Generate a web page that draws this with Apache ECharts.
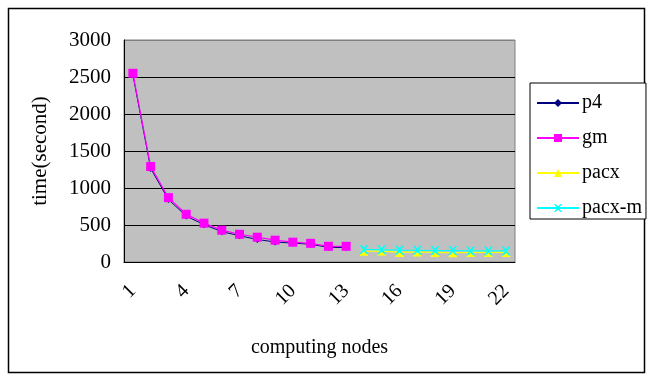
<!DOCTYPE html>
<html><head><meta charset="utf-8">
<script src="https://cdn.jsdelivr.net/npm/echarts@6/dist/echarts.min.js"></script>
<style>html,body{margin:0;padding:0;background:#fff}#c{width:647px;height:379px}</style>
</head><body><div id="c"></div>
<script>
const categories = ['1','2','3','4','5','6','7','8','9','10','11','12','13','14','15','16','17','18','19','20','21','22'];
const p4 = [2530, 1265, 845, 620, 505, 410, 355, 305, 270, 255, 240, 198, 195, null, null, null, null, null, null, null, null, null];
const gm = [2550, 1290, 870, 645, 525, 430, 375, 335, 295, 268, 252, 212, 212, null, null, null, null, null, null, null, null, null];
const pacx = [null, null, null, null, null, null, null, null, null, null, null, null, null, 145, 150, 130, 135, 130, 125, 130, 130, 130];
const pacxm = [null, null, null, null, null, null, null, null, null, null, null, null, null, 170, 165, 160, 158, 155, 155, 150, 150, 150];
const yTicks = [0, 500, 1000, 1500, 2000, 2500, 3000];

const font = '"Liberation Serif", "DejaVu Serif", serif';
const xPath = 'path://M0,0 L2,0 L5,3 L8,0 L10,0 L6,5 L10,10 L8,10 L5,7 L2,10 L0,10 L4,5 Z';
const chart = echarts.init(document.getElementById('c'), null, {renderer: 'canvas'});
chart.setOption({
  animation: false,
  backgroundColor: '#fff',
  graphic: [{
    type: 'rect', left: 6, top: 6, shape: {width: 636, height: 364},
    style: {fill: 'none', stroke: '#000', lineWidth: 1.5}, z: 0
  }],
  grid: {left: 124, top: 40, right: 132, bottom: 117, show: true, backgroundColor: '#c0c0c0', borderColor: '#808080', borderWidth: 1},
  legend: {
    orient: 'vertical', left: 530, top: 83, width: 115,
    padding: [10, 4, 1, 6], itemGap: 15, itemWidth: 42, itemHeight: 10,
    borderColor: '#000', borderWidth: 1, backgroundColor: '#fff',
    textStyle: {fontFamily: font, fontSize: 20, color: '#000', padding: [0, 0, 0, -2]},
    data: ['p4', 'gm', 'pacx', 'pacx-m']
  },
  xAxis: {
    type: 'category', data: categories, boundaryGap: true,
    name: 'computing nodes', nameLocation: 'middle', nameGap: 76,
    nameTextStyle: {fontFamily: font, fontSize: 20, color: '#000'},
    axisLine: {lineStyle: {color: '#000', width: 1}},
    axisTick: {inside: true, length: 5, interval: 0, lineStyle: {color: '#000'}},
    axisLabel: {interval: 2, rotate: 45, fontFamily: font, fontSize: 20, color: '#000', margin: 26}
  },
  yAxis: {
    type: 'value', min: 0, max: 3000, interval: 500,
    name: 'time(second)', nameLocation: 'middle', nameGap: 73,
    nameTextStyle: {fontFamily: font, fontSize: 21, color: '#000'},
    axisLine: {show: true, lineStyle: {color: '#000'}},
    axisTick: {show: false},
    splitLine: {lineStyle: {color: ['#000', '#000', '#000', '#000', '#000', '#000', '#808080'], width: 1}},
    axisLabel: {fontFamily: font, fontSize: 21, color: '#000', margin: 13,
      formatter: v => yTicks.indexOf(v) >= 0 ? String(v) : ''}
  },
  series: [
    {name: 'p4', type: 'line', data: p4, symbol: 'diamond', symbolSize: 7,
      itemStyle: {color: '#000080'}, lineStyle: {color: '#000080', width: 1}, z: 2},
    {name: 'gm', type: 'line', data: gm, symbol: 'rect', symbolSize: 9,
      itemStyle: {color: '#ff00ff'}, lineStyle: {color: '#ff00ff', width: 1.2}, z: 3},
    {name: 'pacx', type: 'line', data: pacx, symbol: 'triangle', symbolSize: 9,
      itemStyle: {color: '#ffff00'}, lineStyle: {color: '#ffff00', width: 1.2}, z: 4},
    {name: 'pacx-m', type: 'line', data: pacxm, symbol: xPath, symbolSize: 9,
      itemStyle: {color: '#00ffff'}, lineStyle: {color: '#00ffff', width: 1.2}, z: 5}
  ]
});
</script></body></html>
